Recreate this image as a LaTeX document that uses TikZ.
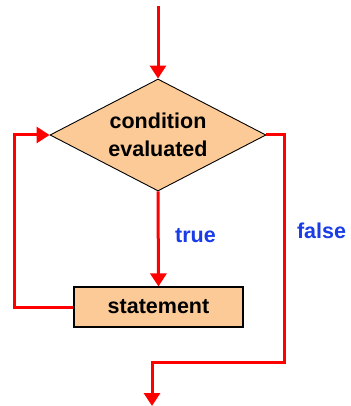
\documentclass[tikz,border=0pt]{standalone}
\usepackage{fontspec}
\setmainfont{Liberation Sans}
\usetikzlibrary{shapes.geometric,arrows.meta}
\definecolor{boxfill}{RGB}{252,202,150}
\definecolor{labelblue}{RGB}{25,60,230}
\tikzset{
  flow/.style={draw=red, line width=3pt, -{Triangle[width=16pt,length=13pt]}},
  decision/.style={diamond, draw=black, line width=0.9pt, fill=boxfill, aspect=1.93,
    minimum width=216pt, minimum height=112pt, inner sep=0pt, align=center,
    font=\bfseries\fontsize{21.5}{28}\selectfont},
  stepbox/.style={rectangle, draw=black, line width=1.1pt, fill=boxfill,
    minimum width=169pt, minimum height=40pt, inner sep=0pt,
    font=\bfseries\fontsize{21.5}{25}\selectfont},
  branch/.style={text=labelblue, font=\bfseries\fontsize{21.5}{25}\selectfont, inner sep=0pt}
}
\begin{document}
\begin{tikzpicture}[x=1pt, y=-1pt]
  \useasboundingbox (0,0) rectangle (350,406);
  % decision and loop body
  \node[decision] (cond) at (158,135) {condition\\evaluated};
  \node[stepbox] (stmt) at (158.5,307) {statement};
  % branch labels
  \node[branch] (t) at (195.5,236) {true};
  \node[branch] (f) at (321.5,231) {false};
  % helper points for the routed lines
  \coordinate (entry) at (158,6);
  \coordinate (loopx) at (14,0);
  \coordinate (exitx) at (284,0);
  \coordinate (turn) at (0,362);
  \coordinate (exit) at (152,406);
  % connectors
  \draw[flow] (entry) -- (cond.north);
  \draw[flow] (cond.south) -- (stmt.north);
  \draw[flow] (stmt.west) -- (stmt.west -| loopx) |- (cond.west);
  \draw[flow] (cond.east) -- (cond.east -| exitx) -- (exitx |- turn)
    -- (exit |- turn) -- (exit);
\end{tikzpicture}
\end{document}
